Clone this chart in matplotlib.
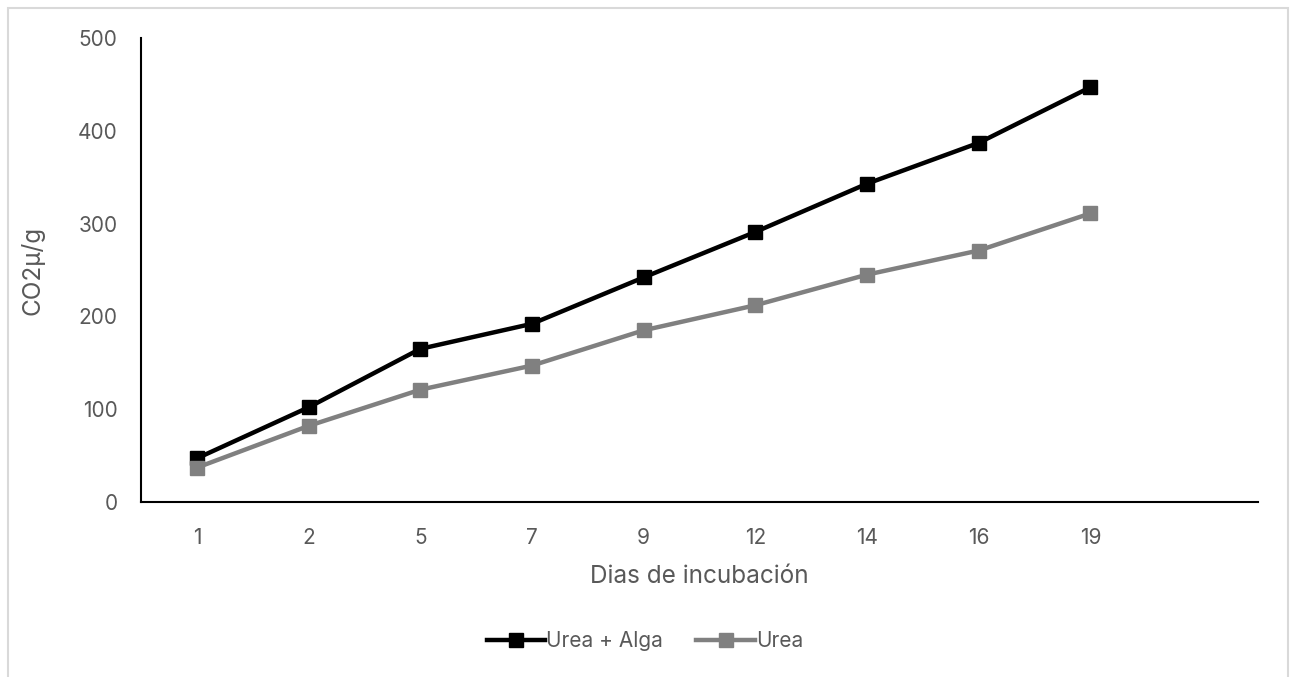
import matplotlib.pyplot as plt
from matplotlib.patches import Rectangle

# data
dias = ['1', '2', '5', '7', '9', '12', '14', '16', '19', '']
urea_alga = [47, 102, 165, 192, 242, 291, 343, 387, 447]
urea = [37, 82, 121, 147, 185, 212, 245, 271, 311]
yticks = [0, 100, 200, 300, 400, 500]

plt.rcParams['font.family'] = ['Inter', 'DejaVu Sans']
txt = '#595959'

fig = plt.figure(figsize=(12.96, 6.77), dpi=100)
ax = fig.add_axes([141/1296, 1 - 502/677, 1117/1296, 464/677])

x = list(range(len(urea_alga)))
ax.plot(x, urea_alga, color='black', lw=3.2, marker='s', ms=9.5, label='Urea + Alga')
ax.plot(x, urea, color='#808080', lw=3.2, marker='s', ms=9.5, label='Urea')

ax.set_xlim(-0.5, len(dias) - 0.5)
ax.set_xticks(range(len(dias)))
ax.set_xticklabels(dias)
ax.set_ylim(0, 500)
ax.set_yticks(yticks)
ax.tick_params(length=0, labelsize=15, labelcolor=txt)
ax.tick_params(axis='x', pad=19)
ax.tick_params(axis='y', pad=17)

for s in ['top', 'right']:
    ax.spines[s].set_visible(False)
for s in ['left', 'bottom']:
    ax.spines[s].set_linewidth(1.5)
    ax.spines[s].set_color('black')

ax.set_xlabel('Dias de incubación', fontsize=17.5, color=txt, labelpad=12)
ax.set_ylabel('CO2µ/g', fontsize=17.5, color=txt, labelpad=24)

fig.legend(loc='center', bbox_to_anchor=(645/1296, 1 - 641/677), ncol=2, frameon=False,
           fontsize=15, labelcolor=txt, handlelength=2.8, handletextpad=0.05, columnspacing=1.6)

# light frame around the chart area
fig.patches.append(Rectangle((8/1296, -0.01), 1280/1296, 1 - 8/677 + 0.01, transform=fig.transFigure,
                             fill=False, edgecolor='#d9d9d9', lw=1.5))

fig.savefig('out.png', dpi=100)
